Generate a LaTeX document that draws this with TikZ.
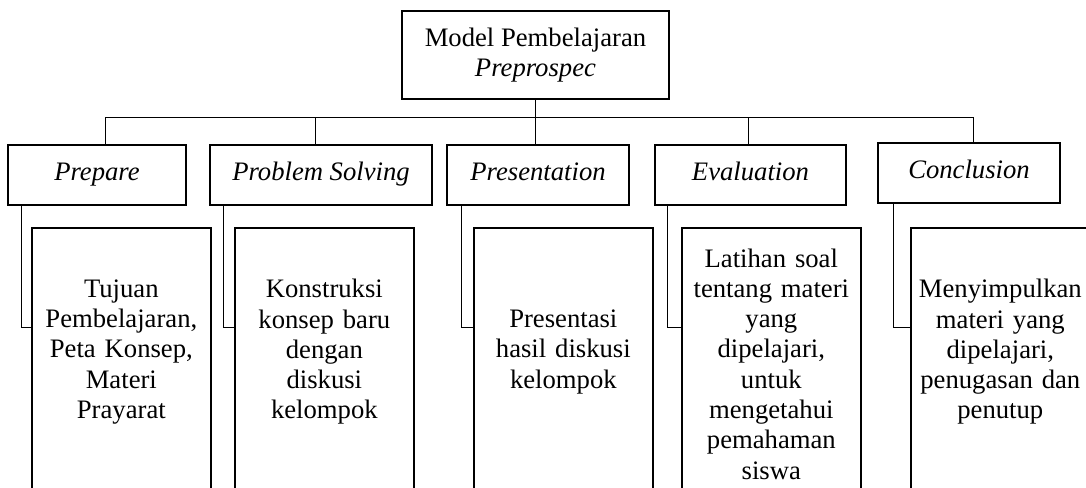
\documentclass[tikz,border=0pt]{standalone}
\usepackage{fontspec}
\setmainfont{Liberation Serif}
\usetikzlibrary{positioning}

\begin{document}
\begin{tikzpicture}[
font=\fontsize{20}{22.7}\selectfont,
box/.style={draw, line width=1.5pt, outer sep=0pt, align=center},
stage/.style={box, font=\fontsize{20}{22.7}\selectfont\itshape, minimum height=45pt, text height=13.5pt, text depth=4.5pt},
detail/.style={box, text width=130pt, inner sep=2pt, minimum height=204pt},
lift/.style={execute at end node={\endgraf\vspace{18pt}}},
link/.style={line width=0.75pt}
]
\useasboundingbox (0,0) rectangle (814.5pt,-366pt);
\node[box, line width=2pt, minimum width=200.25pt, minimum height=66pt] (m) at (401.6pt,-41.25pt) {Model Pembelajaran\\\textit{Preprospec}};
\node[stage, minimum width=133.5pt] (s1) at (72.75pt,-131.25pt) {Prepare};
\node[stage, minimum width=166.5pt, right=18pt of s1] (s2) {Problem Solving};
\node[stage, minimum width=136.5pt, right=11.25pt of s2] (s3) {Presentation};
\node[stage, minimum width=143.25pt, right=19.5pt of s3] (s4) {Evaluation};
\node[stage, minimum width=136.5pt, right=24pt of s4, yshift=1.5pt] (s5) {Conclusion};
\node[detail, lift, below right=17.25pt and 18pt of s1.south west] (k1) {Tujuan\\Pembelajaran,\\Peta Konsep,\\Materi\\Prayarat};
\node[detail, lift, below right=17.25pt and 18.75pt of s2.south west] (k2) {Konstruksi\\konsep baru\\dengan\\diskusi\\kelompok};
\node[detail, lift, below right=17.25pt and 20.25pt of s3.south west] (k3) {Presentasi\\hasil diskusi\\kelompok};
\node[detail, below right=17.25pt and 20.25pt of s4.south west] (k4) {Latihan soal\\tentang materi\\yang\\dipelajari,\\untuk\\mengetahui\\pemahaman\\siswa};
\node[detail, lift, below right=18.75pt and 24.75pt of s5.south west] (k5) {Menyimpulkan\\materi yang\\dipelajari,\\penugasan dan\\penutup};
\draw[link] ([xshift=6pt]s1.north) -- ++(0,20.25pt) -| ([xshift=3pt]s5.north);
\draw[link] ([xshift=-4.5pt]s2.north) -- ++(0,20.25pt);
\draw[link] ([xshift=-1.5pt]s4.north) -- ++(0,20.25pt);
\draw[link] (m.south) -- (m.south |- s3.north);
\foreach \i/\d in {1/9.75pt, 2/9.75pt, 3/10.5pt, 4/9pt, 5/11.25pt}
  \draw[link] ([xshift=\d]s\i.south west) |- ([yshift=-75pt]k\i.north west);
\end{tikzpicture}
\end{document}
